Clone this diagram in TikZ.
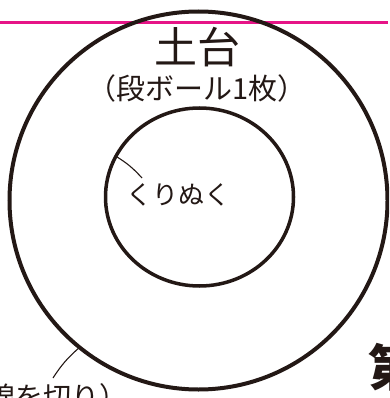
\documentclass[tikz,border=0pt]{standalone}
\usepackage{fontspec}
\setmainfont{Noto Sans CJK JP}
\usetikzlibrary{shapes.geometric}
\definecolor{pinkline}{RGB}{230,20,135}
\definecolor{ink}{RGB}{35,24,21}
\tikzset{
  ring/.style={draw=ink, inner sep=0pt, outer sep=0pt},
  leader/.style={draw=ink, line width=1.1pt},
  label/.style={inner sep=0pt, outer sep=0pt, text=ink},
}
\begin{document}
\begin{tikzpicture}[x=1pt,y=-1pt]
\useasboundingbox (0,0) rectangle (389,398);
\clip (0,0) rectangle (389,398);
\draw[pinkline, line width=3pt] (0,22.3) -- (388,22.3);
\node[ring, circle, line width=4pt, minimum size=378pt] (outer) at (198.5,200.5) {};
\node[ring, ellipse, line width=3.5pt, minimum width=188pt, minimum height=178pt] (inner) at (199.5,197) {};
\node[label, font=\fontsize{43}{43}\selectfont] (title) at (197,47.5) {土台};
\node[label, font=\fontsize{29}{29}\selectfont] (sub) at (197,88.5) {（段ボール1枚）};
\node[label, font=\fontsize{26}{26}\selectfont] (cut) at (178,195) {くりぬく};
\node[label, anchor=east, font=\fontsize{28}{28}\selectfont] (outercut) at (128,397) {（外側の線を切り）};
\node[label, anchor=west, font=\fontsize{50}{50}\selectfont\bfseries] (dai) at (368,367) {第};
\coordinate (c1) at (142,178);
\coordinate (c2) at (53,378);
\draw[leader] (inner.154) to[bend left=8] (c1);
\draw[leader] (outer.231) to[bend right=8] (c2);
\end{tikzpicture}
\end{document}
